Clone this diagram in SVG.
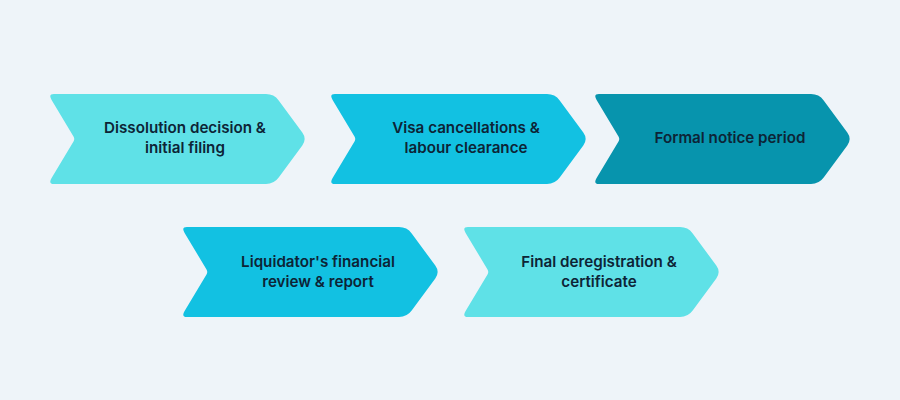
<svg xmlns="http://www.w3.org/2000/svg" xmlns:xlink="http://www.w3.org/1999/xlink" width="900" height="400" viewBox="0 0 900 400">
<style>
.lbl{font-family:Inter,"Noto Sans","Liberation Sans",sans-serif;font-weight:600;font-size:15.2px;fill:#0d2436;text-anchor:middle}
.light{fill:#5fe1e7}
.mid{fill:#12c1e2}
.dark{fill:#0794ad}
</style>
<defs>
<path id="chev" d="M6,0 L218,0 Q226,0 230.7,6.4 L254.3,38.6 Q259,45 254.3,51.4 L230.7,83.6 Q226,90 218,90 L6,90 Q0,90 3.6,84 L25.5,47.6 Q27,45 25.5,42.4 L3.6,6 Q0,0 6,0 Z"/>
</defs>
<rect width="900" height="400" fill="#eef4f9"/>
<g id="connectors"></g>
<g id="step1">
<use xlink:href="#chev" href="#chev" class="light" transform="translate(48,94)"/>
<text class="lbl" x="185" y="133">Dissolution decision &amp;</text>
<text class="lbl" x="185" y="153">initial filing</text>
</g>
<g id="step2">
<use xlink:href="#chev" href="#chev" class="mid" transform="translate(329,94)"/>
<text class="lbl" x="466" y="133">Visa cancellations &amp;</text>
<text class="lbl" x="466" y="153">labour clearance</text>
</g>
<g id="step3">
<use xlink:href="#chev" href="#chev" class="dark" transform="translate(593,94)"/>
<text class="lbl" x="730" y="143">Formal notice period</text>
</g>
<g id="step4">
<use xlink:href="#chev" href="#chev" class="mid" transform="translate(181,227)"/>
<text class="lbl" x="318" y="267">Liquidator's financial</text>
<text class="lbl" x="318" y="287">review &amp; report</text>
</g>
<g id="step5">
<use xlink:href="#chev" href="#chev" class="light" transform="translate(462,227)"/>
<text class="lbl" x="599" y="267">Final deregistration &amp;</text>
<text class="lbl" x="599" y="287">certificate</text>
</g>
</svg>
